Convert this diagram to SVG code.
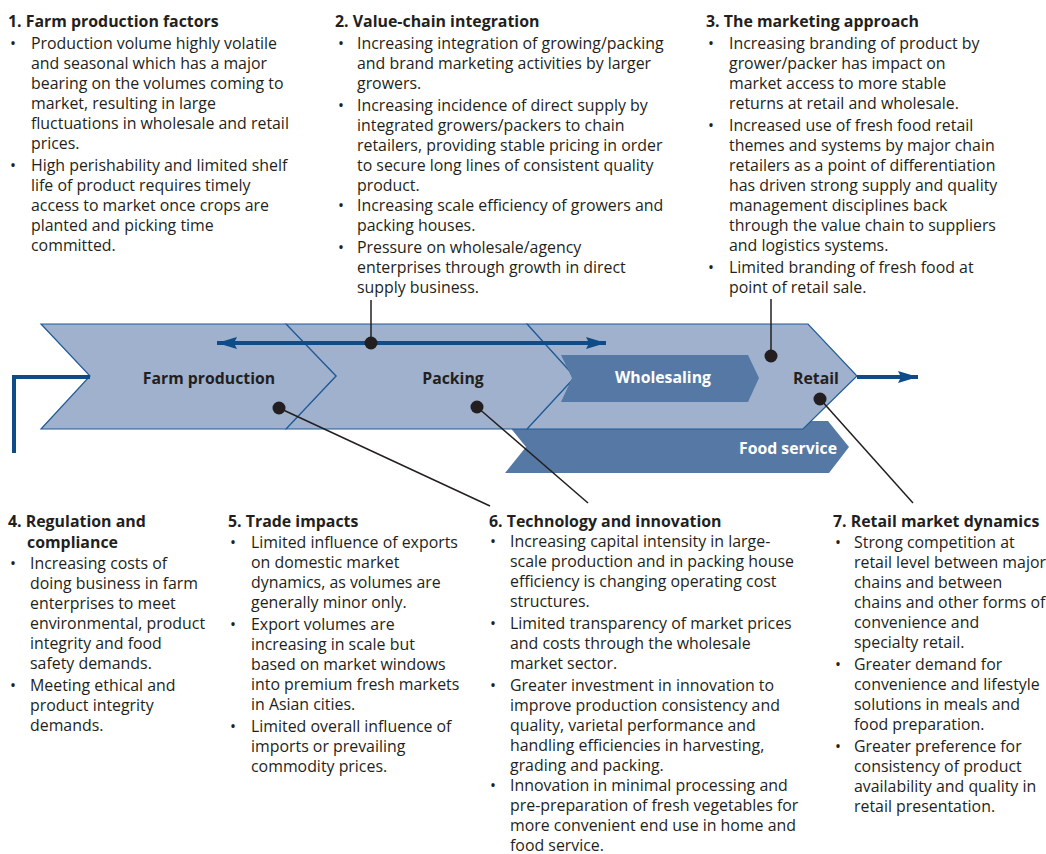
<svg xmlns="http://www.w3.org/2000/svg" width="1046" height="854" viewBox="0 0 1046 854">
  <defs>
    <style>
      .t { font-family: "Open Sans", "Liberation Sans", sans-serif; font-size: 15.9px; fill: #231f20; }
      .h { font-family: "Open Sans", "Liberation Sans", sans-serif; font-size: 15.9px; font-weight: 700; fill: #231f20; }
      .lbl { font-family: "Open Sans", "Liberation Sans", sans-serif; font-size: 15.8px; font-weight: 700; fill: #231f20; text-anchor: middle; }
      .lblw { font-family: "Open Sans", "Liberation Sans", sans-serif; font-size: 15.8px; font-weight: 700; fill: #ffffff; text-anchor: middle; }
      .band { fill: #9fb1cc; stroke: #1f5b97; stroke-width: 1.2; }
      .dark { fill: #5579a4; }
      .flow { fill: none; stroke: #0d4c88; stroke-width: 4; }
      .lead { fill: none; stroke: #231f20; stroke-width: 1.5; }
      .dot { fill: #231f20; }
    </style>
    <marker id="ah" viewBox="0 0 10 10" refX="10" refY="5" markerWidth="5" markerHeight="3" orient="auto-start-reverse" markerUnits="strokeWidth" preserveAspectRatio="none">
      <path d="M0,0 L10,5 L0,10 L1.5,5 z" fill="#0d4c88"/>
    </marker>
  </defs>

  <!-- value chain stages -->
  <g id="food-service">
    <polygon class="dark" points="505,421 828,421 849,447 829,473 505,473 526,447"/>
  </g>
  <g id="retail">
    <polygon class="band" points="527,324 808,324 857,376 803,429 527,429 575,377"/>
  </g>
  <g id="packing">
    <polygon class="band" points="286,324 527,324 575,377 527,429 286,429 336,376"/>
  </g>
  <g id="farm-production">
    <polygon class="band" points="41,324 286,324 336,376 286,429 41,429 90,376"/>
  </g>
  <g id="wholesaling">
    <polygon class="dark" points="561,355 748,355 759,378 748,402 561,402 572,378"/>
  </g>

  <!-- flow arrows and leader lines -->
  <g id="connectors">
    <polyline class="flow" points="90,377 14,377 14,453"/>
    <line class="flow" x1="217" y1="343" x2="606" y2="343" marker-start="url(#ah)" marker-end="url(#ah)"/>
    <line class="flow" x1="857" y1="377" x2="918" y2="377" marker-end="url(#ah)"/>

    <line class="lead" x1="371" y1="343" x2="371" y2="300"/>
    <circle class="dot" cx="371" cy="343" r="6.5"/>
    <line class="lead" x1="771" y1="356" x2="771" y2="299"/>
    <circle class="dot" cx="771" cy="356" r="6.5"/>
    <line class="lead" x1="279" y1="408" x2="490" y2="506"/>
    <circle class="dot" cx="279" cy="408" r="6.5"/>
    <line class="lead" x1="477" y1="407" x2="588" y2="503"/>
    <circle class="dot" cx="477" cy="407" r="6.5"/>
    <line class="lead" x1="820" y1="399" x2="913" y2="503"/>
    <circle class="dot" cx="820" cy="399" r="6.5"/>
  </g>

  <!-- stage labels -->
  <g id="stage-labels">
    <text class="lbl" x="209" y="384">Farm production</text>
    <text class="lbl" x="453" y="384">Packing</text>
    <text class="lblw" x="663" y="383">Wholesaling</text>
    <text class="lbl" x="816" y="384">Retail</text>
    <text class="lblw" x="788" y="454">Food service</text>
  </g>

  <!-- 1. Farm production factors -->
  <g id="note-1">
    <text class="h" x="8" y="27">1. Farm production factors</text>
    <text class="t" x="10" y="49">•</text>
    <text class="t" x="10" y="171">•</text>
    <text class="t">
      <tspan x="31" y="49">Production volume highly volatile</tspan>
      <tspan x="31" y="69">and seasonal which has a major</tspan>
      <tspan x="31" y="89">bearing on the volumes coming to</tspan>
      <tspan x="31" y="109">market, resulting in large</tspan>
      <tspan x="31" y="129">fluctuations in wholesale and retail</tspan>
      <tspan x="31" y="149">prices.</tspan>
      <tspan x="31" y="171">High perishability and limited shelf</tspan>
      <tspan x="31" y="191">life of product requires timely</tspan>
      <tspan x="31" y="211">access to market once crops are</tspan>
      <tspan x="31" y="231">planted and picking time</tspan>
      <tspan x="31" y="251">committed.</tspan>
    </text>
  </g>

  <!-- 2. Value-chain integration -->
  <g id="note-2">
    <text class="h" x="335" y="27">2. Value-chain integration</text>
    <text class="t" x="338" y="49">•</text>
    <text class="t" x="338" y="111">•</text>
    <text class="t" x="338" y="211">•</text>
    <text class="t" x="338" y="253">•</text>
    <text class="t">
      <tspan x="357" y="49">Increasing integration of growing/packing</tspan>
      <tspan x="357" y="69">and brand marketing activities by larger</tspan>
      <tspan x="357" y="89">growers.</tspan>
      <tspan x="357" y="111">Increasing incidence of direct supply by</tspan>
      <tspan x="357" y="131">integrated growers/packers to chain</tspan>
      <tspan x="357" y="151">retailers, providing stable pricing in order</tspan>
      <tspan x="357" y="171">to secure long lines of consistent quality</tspan>
      <tspan x="357" y="191">product.</tspan>
      <tspan x="357" y="211">Increasing scale efficiency of growers and</tspan>
      <tspan x="357" y="231">packing houses.</tspan>
      <tspan x="357" y="253">Pressure on wholesale/agency</tspan>
      <tspan x="357" y="273">enterprises through growth in direct</tspan>
      <tspan x="357" y="293">supply business.</tspan>
    </text>
  </g>

  <!-- 3. The marketing approach -->
  <g id="note-3">
    <text class="h" x="706" y="27">3. The marketing approach</text>
    <text class="t" x="708" y="49">•</text>
    <text class="t" x="708" y="131">•</text>
    <text class="t" x="708" y="273">•</text>
    <text class="t">
      <tspan x="729" y="49">Increasing branding of product by</tspan>
      <tspan x="729" y="69">grower/packer has impact on</tspan>
      <tspan x="729" y="89">market access to more stable</tspan>
      <tspan x="729" y="109">returns at retail and wholesale.</tspan>
      <tspan x="729" y="131">Increased use of fresh food retail</tspan>
      <tspan x="729" y="151">themes and systems by major chain</tspan>
      <tspan x="729" y="171">retailers as a point of differentiation</tspan>
      <tspan x="729" y="191">has driven strong supply and quality</tspan>
      <tspan x="729" y="211">management disciplines back</tspan>
      <tspan x="729" y="231">through the value chain to suppliers</tspan>
      <tspan x="729" y="251">and logistics systems.</tspan>
      <tspan x="729" y="273">Limited branding of fresh food at</tspan>
      <tspan x="729" y="293">point of retail sale.</tspan>
    </text>
  </g>

  <!-- 4. Regulation and compliance -->
  <g id="note-4">
    <text class="h" x="8" y="527">4. Regulation and</text>
    <text class="h" x="27" y="548">compliance</text>
    <text class="t" x="10" y="569">•</text>
    <text class="t" x="10" y="691">•</text>
    <text class="t">
      <tspan x="30" y="569">Increasing costs of</tspan>
      <tspan x="30" y="589">doing business in farm</tspan>
      <tspan x="30" y="609">enterprises to meet</tspan>
      <tspan x="30" y="629">environmental, product</tspan>
      <tspan x="30" y="649">integrity and food</tspan>
      <tspan x="30" y="669">safety demands.</tspan>
      <tspan x="30" y="691">Meeting ethical and</tspan>
      <tspan x="30" y="711">product integrity</tspan>
      <tspan x="30" y="731">demands.</tspan>
    </text>
  </g>

  <!-- 5. Trade impacts -->
  <g id="note-5">
    <text class="h" x="228" y="527">5. Trade impacts</text>
    <text class="t" x="230" y="548">•</text>
    <text class="t" x="230" y="630">•</text>
    <text class="t" x="230" y="732">•</text>
    <text class="t">
      <tspan x="251" y="548">Limited influence of exports</tspan>
      <tspan x="251" y="568">on domestic market</tspan>
      <tspan x="251" y="588">dynamics, as volumes are</tspan>
      <tspan x="251" y="608">generally minor only.</tspan>
      <tspan x="251" y="630">Export volumes are</tspan>
      <tspan x="251" y="650">increasing in scale but</tspan>
      <tspan x="251" y="670">based on market windows</tspan>
      <tspan x="251" y="690">into premium fresh markets</tspan>
      <tspan x="251" y="710">in Asian cities.</tspan>
      <tspan x="251" y="732">Limited overall influence of</tspan>
      <tspan x="251" y="752">imports or prevailing</tspan>
      <tspan x="251" y="772">commodity prices.</tspan>
    </text>
  </g>

  <!-- 6. Technology and innovation -->
  <g id="note-6">
    <text class="h" x="489" y="527">6. Technology and innovation</text>
    <text class="t" x="490" y="547">•</text>
    <text class="t" x="490" y="629">•</text>
    <text class="t" x="490" y="691">•</text>
    <text class="t" x="490" y="791">•</text>
    <text class="t">
      <tspan x="510" y="547">Increasing capital intensity in large-</tspan>
      <tspan x="510" y="567">scale production and in packing house</tspan>
      <tspan x="510" y="587">efficiency is changing operating cost</tspan>
      <tspan x="510" y="607">structures.</tspan>
      <tspan x="510" y="629">Limited transparency of market prices</tspan>
      <tspan x="510" y="649">and costs through the wholesale</tspan>
      <tspan x="510" y="669">market sector.</tspan>
      <tspan x="510" y="691">Greater investment in innovation to</tspan>
      <tspan x="510" y="711">improve production consistency and</tspan>
      <tspan x="510" y="731">quality, varietal performance and</tspan>
      <tspan x="510" y="751">handling efficiencies in harvesting,</tspan>
      <tspan x="510" y="771">grading and packing.</tspan>
      <tspan x="510" y="791">Innovation in minimal processing and</tspan>
      <tspan x="510" y="811">pre-preparation of fresh vegetables for</tspan>
      <tspan x="510" y="831">more convenient end use in home and</tspan>
      <tspan x="510" y="851">food service.</tspan>
    </text>
  </g>

  <!-- 7. Retail market dynamics -->
  <g id="note-7">
    <text class="h" x="833" y="527">7. Retail market dynamics</text>
    <text class="t" x="835" y="548">•</text>
    <text class="t" x="835" y="670">•</text>
    <text class="t" x="835" y="752">•</text>
    <text class="t">
      <tspan x="854" y="548">Strong competition at</tspan>
      <tspan x="854" y="568">retail level between major</tspan>
      <tspan x="854" y="588">chains and between</tspan>
      <tspan x="854" y="608">chains and other forms of</tspan>
      <tspan x="854" y="628">convenience and</tspan>
      <tspan x="854" y="648">specialty retail.</tspan>
      <tspan x="854" y="670">Greater demand for</tspan>
      <tspan x="854" y="690">convenience and lifestyle</tspan>
      <tspan x="854" y="710">solutions in meals and</tspan>
      <tspan x="854" y="730">food preparation.</tspan>
      <tspan x="854" y="752">Greater preference for</tspan>
      <tspan x="854" y="772">consistency of product</tspan>
      <tspan x="854" y="792">availability and quality in</tspan>
      <tspan x="854" y="812">retail presentation.</tspan>
    </text>
  </g>
</svg>
